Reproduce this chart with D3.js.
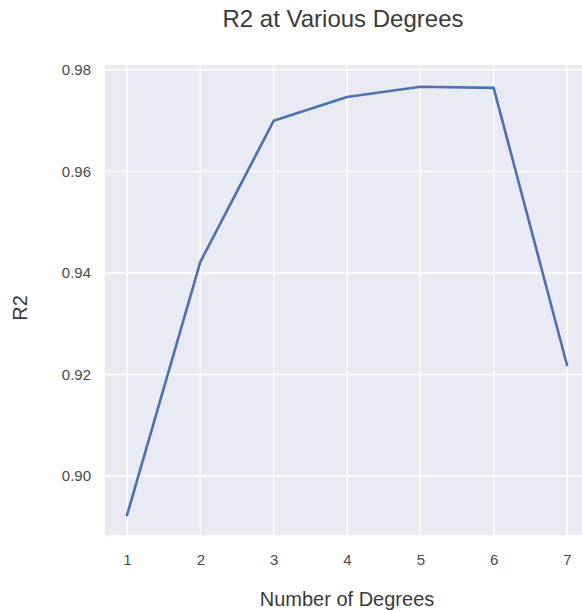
<!DOCTYPE html>
<html>
<head>
<meta charset="utf-8">
<script src="https://cdn.jsdelivr.net/npm/d3@7"></script>
<style>
  body { margin: 0; background: #fff; }
  text { font-family: "Liberation Sans", Arial, sans-serif; }
</style>
</head>
<body>
<div id="chart"></div>
<script>
// data
var degrees = [1, 2, 3, 4, 5, 6, 7];
var r2 = [0.8923, 0.9422, 0.9700, 0.9747, 0.9767, 0.9765, 0.9219];
var yTicks = [0.90, 0.92, 0.94, 0.96, 0.98];
var title = 'R2 at Various Degrees';
var xLabel = 'Number of Degrees';
var yLabel = 'R2';

var width = 582;
var height = 611;
var plotLeft = 105, plotRight = 589, plotTop = 65, plotBottom = 535;

var svg = d3.select('#chart').append('svg')
  .attr('width', width)
  .attr('height', height);

var x = d3.scaleLinear().domain([0.7, 7.3]).range([plotLeft, plotRight]);
var y = d3.scaleLinear().domain([0.8884, 0.981]).range([plotBottom, plotTop]);

// background
svg.append('rect')
  .attr('x', plotLeft)
  .attr('y', plotTop)
  .attr('width', plotRight - plotLeft)
  .attr('height', plotBottom - plotTop)
  .attr('fill', '#EAEAF2');

// grid
svg.append('g').selectAll('line.xg')
  .data(degrees).enter().append('line')
  .attr('x1', function (d) { return x(d); })
  .attr('x2', function (d) { return x(d); })
  .attr('y1', plotTop).attr('y2', plotBottom)
  .attr('stroke', '#fff').attr('stroke-width', 1.5);

svg.append('g').selectAll('line.yg')
  .data(yTicks).enter().append('line')
  .attr('y1', function (d) { return y(d); })
  .attr('y2', function (d) { return y(d); })
  .attr('x1', plotLeft).attr('x2', plotRight)
  .attr('stroke', '#fff').attr('stroke-width', 1.5);

// axes (labels only, no spines)
var xAxis = svg.append('g')
  .attr('transform', 'translate(0,' + plotBottom + ')')
  .call(d3.axisBottom(x).tickValues(degrees).tickSize(0).tickPadding(19).tickFormat(d3.format('d')));
var yAxis = svg.append('g')
  .attr('transform', 'translate(' + plotLeft + ',0)')
  .call(d3.axisLeft(y).tickValues(yTicks).tickSize(0).tickPadding(14).tickFormat(d3.format('.2f')));
[xAxis, yAxis].forEach(function (a) {
  a.select('.domain').remove();
  a.selectAll('text')
    .style('font-family', '"Liberation Sans", Arial, sans-serif')
    .style('font-size', '15px')
    .attr('fill', '#4a4a4a');
});

// line
var line = d3.line()
  .x(function (d, i) { return x(degrees[i]); })
  .y(function (d) { return y(d); });

svg.append('path')
  .datum(r2)
  .attr('d', line)
  .attr('fill', 'none')
  .attr('stroke', '#4C72B0')
  .attr('stroke-width', 2.6)
  .attr('stroke-linejoin', 'round')
  .attr('stroke-linecap', 'round');

// titles
svg.append('text')
  .attr('x', 343).attr('y', 27)
  .attr('text-anchor', 'middle')
  .style('font-size', '24px')
  .attr('fill', '#3a3a3a')
  .text(title);

svg.append('text')
  .attr('x', 347).attr('y', 606)
  .attr('text-anchor', 'middle')
  .style('font-size', '20px')
  .attr('fill', '#3a3a3a')
  .text(xLabel);

svg.append('text')
  .attr('transform', 'translate(27,' + 308 + ') rotate(-90)')
  .attr('text-anchor', 'middle')
  .style('font-size', '20px')
  .attr('fill', '#3a3a3a')
  .text(yLabel);
</script>
</body>
</html>
